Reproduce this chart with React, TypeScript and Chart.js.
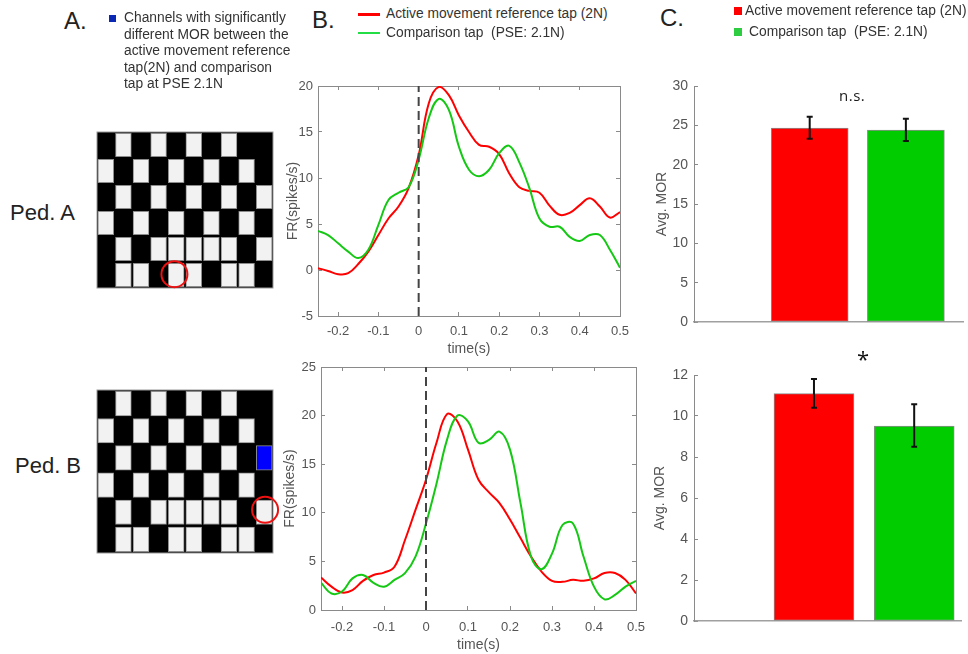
import React, { useEffect, useRef } from "react";
import { Chart, registerables } from "chart.js";

Chart.register(...registerables);

const FONT = '"Liberation Sans", Arial, sans-serif';
const RED = "#ff0000";
const GREEN_LINE = "#14c814";
const GREEN_BAR = "#00cc00";
const AXIS = "#8a8a8a";
const TICK_TEXT = "#555555";

// ---- line data (time in seconds, firing rate in spikes/s)
const timeAxis = [
  -0.25, -0.225, -0.2, -0.175, -0.15, -0.125, -0.1, -0.075, -0.05, -0.025, 0, 0.025, 0.05, 0.075, 0.1, 0.125,
  0.15, 0.175, 0.2, 0.225, 0.25, 0.275, 0.3, 0.325, 0.35, 0.375, 0.4, 0.425, 0.45, 0.475, 0.5,
];
const redA = [
  0.2, -0.1, -0.45, -0.35, 0.65, 2, 3.8, 5.6, 6.9, 8.9, 12.5, 18.1, 19.9, 19, 16.8, 15, 13.6, 13.4, 12.6, 10.5, 9,
  8.6, 8.4, 7, 6, 6.2, 7.05, 7.8, 6.9, 5.7, 6.3,
];
const greenA = [
  4.25, 3.8, 2.9, 2, 1.3, 2.2, 4.9, 7.6, 8.4, 9, 12, 16.5, 18.6, 17.4, 13.4, 10.9, 10.2, 10.9, 12.7, 13.5, 11.7,
  8.9, 5.6, 4.7, 4.7, 3.6, 3.15, 3.8, 3.8, 2.2, 0.25,
];
const redB = [
  3.35, 2.4, 1.8, 2.05, 3, 3.6, 3.85, 4.45, 7.2, 10.3, 13.4, 17.2, 20.15, 19.4, 16.5, 13.4, 12.1, 11, 9.3, 7.4, 5.5,
  3.95, 3, 2.9, 3.1, 3, 3.25, 3.8, 3.8, 3.1, 1.7,
];
const greenB = [
  2.8, 1.7, 1.9, 3.25, 3.6, 2.8, 2.4, 3.1, 3.8, 5.5, 8.9, 13, 17.5, 20, 19.4, 17.2, 17.5, 18.35, 16.5, 11, 5.5, 4.2,
  5.8, 8.75, 8.9, 5.5, 2.4, 1.1, 1.55, 2.4, 3,
];
const timeTicks = [-0.2, -0.1, 0, 0.1, 0.2, 0.3, 0.4, 0.5];
const frTicksA = [-5, 0, 5, 10, 15, 20];
const frTicksB = [0, 5, 10, 15, 20, 25];

// ---- bar data
const barLabels = ["Active movement reference tap (2N)", "Comparison tap  (PSE: 2.1N)"];
const barX = [2, 3];
const morA = [24.65, 24.4];
const morALow = [23.3, 23.0];
const morAHigh = [26.1, 25.85];
const morB = [11.09, 9.51];
const morBLow = [10.4, 8.5];
const morBHigh = [11.8, 10.57];
const morTicksA = [0, 5, 10, 15, 20, 25, 30];
const morTicksB = [0, 2, 4, 6, 8, 10, 12];

// ---- channel grid: 0 black, 1 white, 2 significant
const gridRowsA = [
  [0, 1, 0, 1, 0, 1, 0, 1, 0, 0],
  [1, 0, 1, 0, 1, 0, 1, 0, 1, 0],
  [0, 1, 0, 1, 0, 1, 0, 1, 0, 1],
  [1, 0, 1, 0, 1, 0, 1, 0, 1, 0],
  [0, 1, 0, 1, 1, 1, 1, 1, 0, 1],
  [0, 1, 1, 0, 1, 1, 0, 1, 1, 0],
];
const gridRowsB = [
  [0, 1, 0, 1, 0, 1, 0, 1, 0, 0],
  [1, 0, 1, 0, 1, 0, 1, 0, 1, 0],
  [0, 1, 0, 1, 0, 1, 0, 1, 0, 2],
  [1, 0, 1, 0, 1, 0, 1, 0, 1, 0],
  [0, 1, 0, 1, 1, 1, 1, 1, 0, 1],
  [0, 1, 1, 0, 1, 1, 0, 1, 1, 0],
];
const circleA = { x: 4.4, y: 5.47 };
const circleB = { x: 9.55, y: 4.41 };

type Box = { left: number; top: number; width: number; height: number };

function useChart(make: (c: HTMLCanvasElement) => Chart) {
  const ref = useRef<HTMLCanvasElement | null>(null);
  useEffect(() => {
    const chart = make(ref.current!);
    return () => chart.destroy();
  }, []);
  return ref;
}

function canvasStyle(b: Box): React.CSSProperties {
  return { position: "absolute", left: b.left, top: b.top, width: b.width, height: b.height };
}

function ChannelGrid({ box, rows, circle }: { box: Box; rows: number[][]; circle: { x: number; y: number } }) {
  const ref = useChart((c) => {
    const fills = ["rgba(0,0,0,0)", "#f2f2f2", "#0000ff"];
    const inset = 0.05;
    const cells: { x: number; y: number[]; v: number }[] = [];
    rows.forEach((row, r) =>
      row.forEach((v, col) => {
        if (v) cells.push({ x: col + 0.5, y: [r + inset, r + 1 - inset], v });
      })
    );
    const backdrop = {
      id: "backdrop",
      beforeDatasetsDraw(ch: any) {
        const a = ch.chartArea;
        const x = ch.ctx;
        x.save();
        x.fillStyle = "#000000";
        x.fillRect(a.left, a.top, a.width, a.height);
        x.strokeStyle = "#9a9a9a";
        x.lineWidth = 1;
        x.strokeRect(a.left, a.top, a.width, a.height);
        x.restore();
      },
    };
    return new Chart(c, {
      type: "bar",
      data: {
        datasets: [
          {
            data: cells,
            backgroundColor: cells.map((k) => fills[k.v]),
            borderColor: "#8c8c8c",
            borderWidth: 1,
            borderSkipped: false,
            barThickness: 15.8,
            order: 2,
          },
          {
            type: "scatter",
            data: [circle],
            pointRadius: 13,
            pointBorderWidth: 2,
            pointBorderColor: "#ee1111",
            pointBackgroundColor: "rgba(0,0,0,0)",
            clip: false,
            order: 1,
          },
        ] as any,
      },
      options: {
        animation: false,
        responsive: false,
        layout: { padding: 12, autoPadding: false },
        plugins: { legend: { display: false }, tooltip: { enabled: false } },
        scales: {
          x: { type: "linear", display: false, offset: false, min: 0, max: 10, grid: { offset: false } },
          y: { display: false, min: 0, max: 6, reverse: true },
        },
      },
      plugins: [backdrop],
    } as any);
  });
  return <canvas ref={ref} width={box.width} height={box.height} style={canvasStyle(box)} />;
}

function tickSet(list: number[]) {
  return (scale: any) => {
    scale.ticks = list.map((value) => ({ value }));
  };
}

function clearPadding(scale: any) {
  scale.paddingLeft = 0;
  scale.paddingRight = 0;
  scale.paddingTop = 0;
  scale.paddingBottom = 0;
}
function fixWidth(w: number) {
  return (scale: any) => {
    scale.width = w;
    clearPadding(scale);
  };
}
function fixHeight(h: number) {
  return (scale: any) => {
    scale.height = h;
    clearPadding(scale);
  };
}

function LineChart(props: {
  box: Box;
  red: number[];
  green: number[];
  yMin: number;
  yMax: number;
  yTicks: number[];
  padTop: number;
  padRight: number;
  yWidth: number;
  xHeight: number;
  xTickPad: number;
}) {
  const { box, red, green, yMin, yMax, yTicks, padTop, padRight, yWidth, xHeight, xTickPad } = props;
  const ref = useChart((c) => {
    const inward = {
      drawOnChartArea: false,
      tickLength: -4,
      tickColor: AXIS,
      lineWidth: 1,
    };
    const tickFont = { family: FONT, size: 13 };
    return new Chart(c, {
      type: "line",
      data: {
        datasets: [
          {
            data: timeAxis.map((x, i) => ({ x, y: red[i] })),
            borderColor: RED,
            borderWidth: 2,
            tension: 0.4,
            pointRadius: 0,
            order: 2,
          },
          {
            data: timeAxis.map((x, i) => ({ x, y: green[i] })),
            borderColor: GREEN_LINE,
            borderWidth: 2,
            tension: 0.4,
            pointRadius: 0,
            order: 1,
          },
          {
            data: [
              { x: 0, y: yMin },
              { x: 0, y: yMax },
            ],
            borderColor: "#444444",
            borderWidth: 2,
            borderDash: [9, 5],
            pointRadius: 0,
            order: 0,
          },
        ],
      },
      options: {
        animation: false,
        responsive: false,
        layout: { padding: { top: padTop, right: padRight, left: 0, bottom: 0 }, autoPadding: false },
        plugins: { legend: { display: false }, tooltip: { enabled: false } },
        scales: {
          x: {
            type: "linear",
            min: -0.25,
            max: 0.5,
            afterBuildTicks: tickSet(timeTicks),
            afterFit: fixHeight(xHeight),
            border: { color: AXIS },
            grid: inward,
            ticks: {
              color: TICK_TEXT,
              font: tickFont,
              padding: xTickPad,
              maxRotation: 0,
              autoSkip: false,
              callback: (v: any) => String(v),
            },
            title: { display: true, text: "time(s)", color: TICK_TEXT, font: { family: FONT, size: 14 }, padding: { top: 2, bottom: 0 } },
          },
          y: {
            min: yMin,
            max: yMax,
            afterBuildTicks: tickSet(yTicks),
            afterFit: fixWidth(yWidth),
            border: { color: AXIS },
            grid: inward,
            ticks: { color: TICK_TEXT, font: tickFont, padding: 9, callback: (v: any) => String(v) },
            title: { display: true, text: "FR(spikes/s)", color: TICK_TEXT, font: { family: FONT, size: 14 }, padding: 0 },
          },
          xTop: {
            type: "linear",
            position: "top",
            min: -0.25,
            max: 0.5,
            afterBuildTicks: tickSet(timeTicks),
            afterFit: fixHeight(0),
            border: { color: AXIS },
            grid: inward,
            ticks: { display: false },
          },
          yRight: {
            type: "linear",
            position: "right",
            min: yMin,
            max: yMax,
            afterBuildTicks: tickSet(yTicks),
            afterFit: fixWidth(0),
            border: { color: AXIS },
            grid: inward,
            ticks: { display: false },
          },
        },
      },
    } as any);
  });
  return <canvas ref={ref} width={box.width} height={box.height} style={canvasStyle(box)} />;
}

function BarChart(props: {
  box: Box;
  values: number[];
  low: number[];
  high: number[];
  yMax: number;
  yTicks: number[];
  xMin: number;
  xMax: number;
  thickness: number;
  padTop: number;
  padRight: number;
  yWidth: number;
  xHeight: number;
}) {
  const { box, values, low, high, yMax, yTicks, xMin, xMax, thickness, padTop, padRight, yWidth, xHeight } = props;
  const ref = useChart((c) => {
    const errorBars = {
      id: "errorBars",
      afterDatasetsDraw(ch: any) {
        const xs = ch.scales.x;
        const ys = ch.scales.y;
        const g = ch.ctx;
        g.save();
        g.strokeStyle = "#111111";
        g.lineWidth = 2;
        barX.forEach((bx, i) => {
          const px = xs.getPixelForValue(bx);
          const y0 = ys.getPixelForValue(low[i]);
          const y1 = ys.getPixelForValue(high[i]);
          g.beginPath();
          g.moveTo(px, y0);
          g.lineTo(px, y1);
          g.moveTo(px - 3, y0);
          g.lineTo(px + 3, y0);
          g.moveTo(px - 3, y1);
          g.lineTo(px + 3, y1);
          g.stroke();
        });
        g.restore();
      },
    };
    return new Chart(c, {
      type: "bar",
      data: {
        labels: barLabels,
        datasets: [
          {
            data: barX.map((x, i) => ({ x, y: values[i] })),
            backgroundColor: [RED, GREEN_BAR],
            borderColor: "#8c8c8c",
            borderWidth: 1,
            borderSkipped: false,
            barThickness: thickness,
          },
        ],
      },
      options: {
        animation: false,
        responsive: false,
        layout: { padding: { top: padTop, right: padRight, left: 0, bottom: 0 }, autoPadding: false },
        plugins: { legend: { display: false }, tooltip: { enabled: false } },
        scales: {
          x: {
            type: "linear",
            offset: false,
            min: xMin,
            max: xMax,
            afterFit: fixHeight(xHeight),
            border: { color: "#a0a0a0", width: 1.5 },
            grid: { display: false, offset: false },
            ticks: { display: false },
          },
          y: {
            min: 0,
            max: yMax,
            afterBuildTicks: tickSet(yTicks),
            afterFit: fixWidth(yWidth),
            border: { color: AXIS },
            grid: { drawOnChartArea: false, tickLength: -4, tickColor: AXIS },
            ticks: { color: TICK_TEXT, font: { family: FONT, size: 14 }, padding: 10, callback: (v: any) => String(v) },
            title: { display: true, text: "Avg. MOR", color: TICK_TEXT, font: { family: FONT, size: 14 }, padding: 0 },
          },
        },
      },
      plugins: [errorBars],
    } as any);
  });
  return <canvas ref={ref} width={box.width} height={box.height} style={canvasStyle(box)} />;
}

function Txt(p: { x: number; y: number; size: number; color?: string; family?: string; spacing?: number; children: React.ReactNode }) {
  return (
    <div
      style={{
        position: "absolute",
        left: p.x,
        top: p.y,
        fontFamily: p.family || FONT,
        fontSize: p.size,
        lineHeight: 1,
        color: p.color || "#333333",
        whiteSpace: "pre",
        letterSpacing: p.spacing,
      }}
    >
      {p.children}
    </div>
  );
}

function Swatch(p: { x: number; y: number; w: number; h: number; color: string }) {
  return <div style={{ position: "absolute", left: p.x, top: p.y, width: p.w, height: p.h, background: p.color }} />;
}

const noteLines = [
  "Channels with significantly",
  "different MOR between the",
  "active movement reference",
  "tap(2N) and comparison",
  "tap at PSE 2.1N",
];

export default function App() {
  return (
    <div style={{ position: "absolute", left: 0, top: 0, width: 968, height: 654, background: "#ffffff", overflow: "hidden", filter: "blur(0.35px)" }}>
      <ChannelGrid box={{ left: 85, top: 120, width: 200, height: 180 }} rows={gridRowsA} circle={circleA} />
      <ChannelGrid box={{ left: 85, top: 378, width: 200, height: 187 }} rows={gridRowsB} circle={circleB} />

      <LineChart
        box={{ left: 285, top: 75, width: 345, height: 283 }}
        red={redA}
        green={greenA}
        yMin={-5}
        yMax={20}
        yTicks={frTicksA}
        padTop={11}
        padRight={10}
        yWidth={33}
        xHeight={42}
        xTickPad={12}
      />
      <LineChart
        box={{ left: 282, top: 357, width: 368, height: 297 }}
        red={redB}
        green={greenB}
        yMin={0}
        yMax={25}
        yTicks={frTicksB}
        padTop={10}
        padRight={14}
        yWidth={39}
        xHeight={44}
        xTickPad={14}
      />

      <BarChart
        box={{ left: 654, top: 76, width: 314, height: 256 }}
        values={morA}
        low={morALow}
        high={morAHigh}
        yMax={30}
        yTicks={morTicksA}
        xMin={0.797}
        xMax={3.594}
        thickness={77}
        padTop={10}
        padRight={5}
        yWidth={40}
        xHeight={10}
      />
      <BarChart
        box={{ left: 652, top: 365, width: 316, height: 266 }}
        values={morB}
        low={morBLow}
        high={morBHigh}
        yMax={12}
        yTicks={morTicksB}
        xMin={0.803}
        xMax={3.467}
        thickness={80}
        padTop={10}
        padRight={7}
        yWidth={42}
        xHeight={10}
      />

      <Txt x={64} y={9} size={24} color="#222222">A.</Txt>
      <Txt x={312} y={8} size={24} color="#222222">B.</Txt>
      <Txt x={660} y={6} size={24} color="#222222">C.</Txt>
      <Txt x={10} y={202} size={22} color="#222222">Ped. A</Txt>
      <Txt x={15} y={455} size={22} color="#222222">Ped. B</Txt>

      <Swatch x={109} y={15} w={7} h={7} color="#0a28b4" />
      {noteLines.map((t, i) => (
        <Txt key={t} x={124} y={11 + i * 16.5} size={13.8}>{t}</Txt>
      ))}

      <Swatch x={358} y={13} w={22} h={3} color={RED} />
      <Txt x={386} y={7} size={13.8}>{barLabels[0]}</Txt>
      <Swatch x={358} y={32} w={22} h={2} color="#22dd44" />
      <Txt x={386} y={26} size={13.8}>{barLabels[1]}</Txt>

      <Swatch x={734} y={7} w={8} h={8} color={RED} />
      <Txt x={745} y={4} size={13.8}>{barLabels[0]}</Txt>
      <Swatch x={734} y={28} w={8} h={8} color="#2ecc40" />
      <Txt x={749} y={25} size={13.8}>{barLabels[1]}</Txt>

      <Txt x={839} y={88} size={15} color="#1a1a1a" family='"Open Sans", sans-serif' spacing={0.5}>n.s.</Txt>
      <Txt x={857} y={347} size={22} color="#111111" family='"Open Sans", sans-serif'>*</Txt>
    </div>
  );
}
